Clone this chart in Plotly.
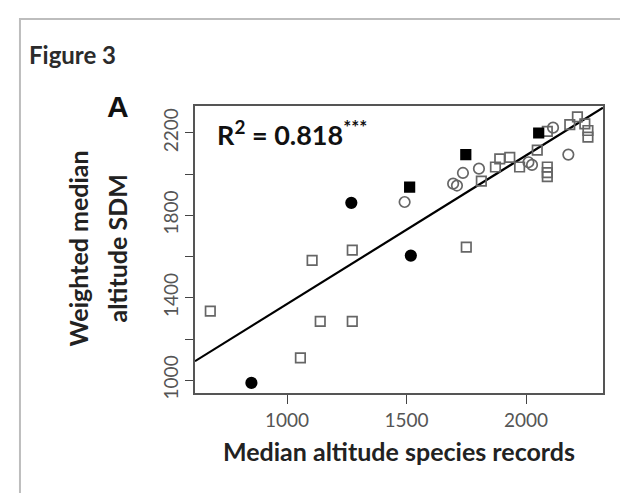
import numpy as np
import plotly.graph_objects as go

# Data ---
filled_circle_x = [851, 1269, 1518]
filled_circle_y = [987, 1861, 1605]

filled_square_x = [1513, 1748, 2053]
filled_square_y = [1937, 2095, 2200]

open_circle_x = [1492, 1695, 1711, 1736, 1803, 2010, 2025, 2113, 2177]
open_circle_y = [1865, 1954, 1945, 2006, 2027, 2058, 2045, 2226, 2095]

open_square_x = [679, 1056, 1105, 1139, 1273, 1273, 1750, 1813, 1872, 1890,
                 1932, 1973, 2047, 2089, 2089, 2089, 2089, 2183, 2215, 2246,
                 2259, 2259]
open_square_y = [1335, 1108, 1582, 1286, 1631, 1286, 1646, 1966, 2035, 2074,
                 2082, 2035, 2117, 2208, 2035, 2008, 1988, 2241, 2278, 2244,
                 2212, 2180]

fit_intercept = 649
fit_slope = 0.721
r_squared = "0.818"

x_ticks = [1000, 1500, 2000]
y_ticks = [1000, 1200, 1400, 1600, 1800, 2000, 2200]
y_tick_labels = ["1000", " ", "1400", " ", "1800", " ", "2200"]

X_RANGE = [615, 2322]
Y_RANGE = [938, 2331]

GREY = "#666666"
FONT = "Lato"

fig = go.Figure()

# regression line over the full axis range (like abline)
line_x = np.array(X_RANGE)
fig.add_trace(go.Scatter(
    x=line_x, y=fit_intercept + fit_slope * line_x,
    mode="lines", line=dict(color="black", width=2.2),
    showlegend=False, hoverinfo="skip",
))

groups = [
    (open_square_x, open_square_y, "square-open", GREY, 9.5),
    (open_circle_x, open_circle_y, "circle-open", GREY, 10.5),
    (filled_square_x, filled_square_y, "square", "black", 9.5),
    (filled_circle_x, filled_circle_y, "circle", "black", 10.5),
]
for gx, gy, symbol, color, size in groups:
    fig.add_trace(go.Scatter(
        x=gx, y=gy, mode="markers", showlegend=False,
        marker=dict(symbol=symbol, color=color, size=size,
                    line=dict(color=color, width=1.7)),
    ))

fig.update_xaxes(
    range=X_RANGE, tickvals=x_ticks,
    ticks="outside", ticklen=9, tickwidth=1.3, tickcolor="#444",
    showline=True, mirror=True, linecolor="#555", linewidth=1.6,
    showgrid=False, zeroline=False,
    tickfont=dict(family=FONT, size=19, color="#555"),
    title=dict(text="<b>Median altitude species records</b>",
               font=dict(family=FONT, size=25, color="#222"), standoff=14),
)
fig.update_yaxes(
    range=Y_RANGE, tickvals=y_ticks, ticktext=y_tick_labels, tickangle=-90,
    ticks="outside", ticklen=8, tickwidth=1.3, tickcolor="#444",
    showline=True, mirror=True, linecolor="#555", linewidth=1.6,
    showgrid=False, zeroline=False,
    tickfont=dict(family=FONT, size=19, color="#555"),
)

annotations = [
    dict(text="<b>Figure 3</b>", x=-0.412, y=1.178, xanchor="left",
         font=dict(family=FONT, size=24, color="#2b2b2b")),
    dict(text="<b>A</b>", x=-0.22, y=1.0, xanchor="left",
         font=dict(family="Liberation Sans", size=30, color="#111")),
    dict(text="<b>Weighted median</b>", x=-0.286, y=0.505, textangle=-90,
         font=dict(family=FONT, size=25, color="#222")),
    dict(text="<b>altitude SDM</b>", x=-0.19, y=0.505, textangle=-90,
         font=dict(family=FONT, size=25, color="#222")),
    dict(text="<b>R<sup>2</sup> = " + r_squared + "<sup>***</sup></b>",
         x=0.05, y=0.905, xanchor="left",
         font=dict(family=FONT, size=27, color="#111")),
]
for a in annotations:
    a.update(xref="paper", yref="paper", showarrow=False, yanchor="middle")
    a.setdefault("xanchor", "center")

fig.update_layout(
    width=628, height=493,
    margin=dict(l=187, r=33, t=98, b=108),
    paper_bgcolor="white", plot_bgcolor="white",
    annotations=annotations,
    shapes=[dict(type="rect", xref="paper", yref="paper",
                 x0=-0.429, x1=1.2, y0=-0.5, y1=1.303,
                 line=dict(color="#bdbdbd", width=2), layer="below")],
)

fig.write_html("out.html")
